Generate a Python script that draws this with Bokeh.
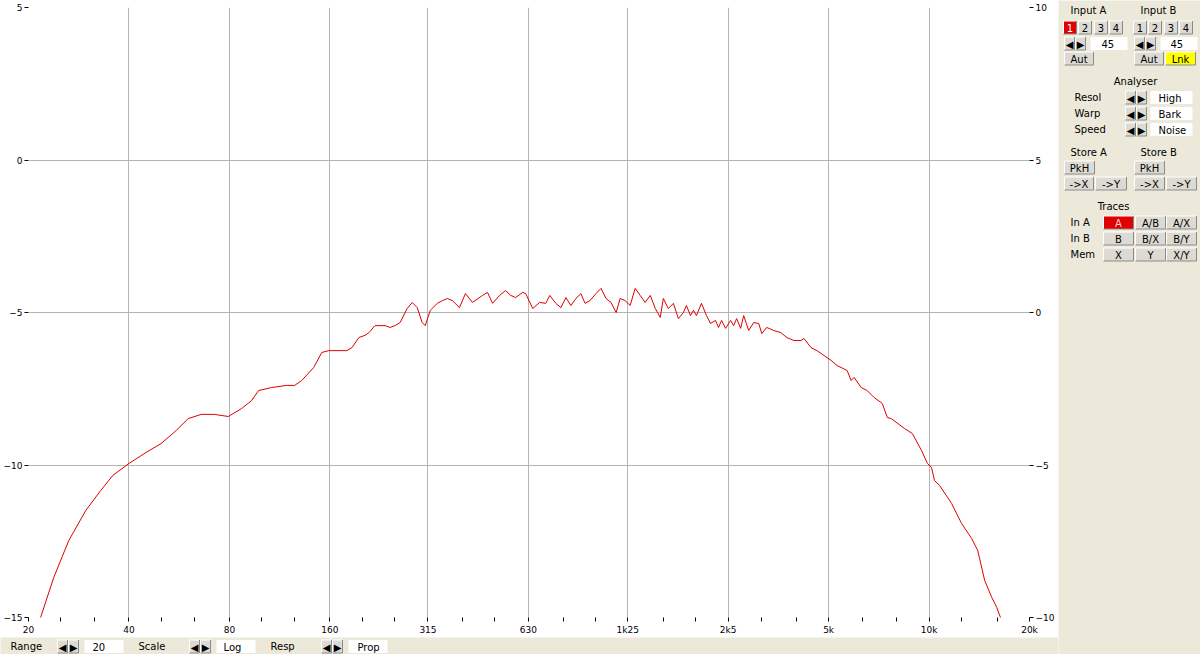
from bokeh.plotting import figure
from bokeh.models import (Range1d, LinearAxis, FixedTicker, GlobalInlineStyleSheet)
from bokeh.layouts import row, column
from bokeh.core.properties import value
from bokeh.embed import file_html
from bokeh.resources import INLINE

# ---------------- data ----------------
freq_hz = [21.7, 23.8, 26.4, 29.7, 32.9, 35.8, 40.0, 45.0, 49.9, 55.4, 60.2, 65.9, 72.1, 79.4,
           87.0, 93.2, 97.8, 107.0, 118.8, 125.5, 131.8, 143.2, 151.4, 158.9, 180.0, 186.4,
           195.6, 203.9, 209.6, 218.5, 234.2, 242.5, 251.0, 259.9, 272.8, 282.5, 292.4, 302.7,
           309.1, 320.0, 335.9, 347.8, 360.0, 372.8, 391.3, 407.9, 428.1, 458.9, 475.0, 491.8,
           516.3, 538.2, 557.2, 576.8, 605.5, 618.2, 648.9, 681, 710, 730, 761, 788, 816, 844,
           874, 905, 931, 963, 1004, 1040, 1076, 1114, 1154, 1186, 1228, 1271, 1316, 1362,
           1410, 1460, 1512, 1565, 1598, 1654, 1713, 1773, 1836, 1874, 1927, 1967, 2009, 2079,
           2153, 2213, 2291, 2339, 2389, 2456, 2542, 2596, 2650, 2725, 2782, 2880, 2982, 3087,
           3152, 3263, 3425, 3595, 3748, 3935, 4130, 4217, 4427, 4614, 4844, 5085, 5300, 5681,
           5841, 5963, 6260, 6526, 6850, 7240, 7496, 7706, 8434, 8914, 9488, 9891, 10170,
           10384, 10749, 11682, 12519, 13418, 13988, 14684, 15413, 15957, 16405]
level_db = [-15.03, -13.69, -12.48, -11.49, -10.84, -10.34, -9.95, -9.59, -9.30, -8.87, -8.48,
            -8.34, -8.34, -8.41, -8.15, -7.89, -7.56, -7.46, -7.39, -7.39, -7.23, -6.80, -6.31,
            -6.25, -6.25, -6.15, -5.82, -5.75, -5.66, -5.43, -5.43, -5.49, -5.43, -5.33, -4.87,
            -4.67, -4.84, -5.33, -5.43, -4.93, -4.70, -4.61, -4.54, -4.61, -4.84, -4.38, -4.67,
            -4.44, -4.34, -4.70, -4.44, -4.28, -4.44, -4.51, -4.34, -4.38, -4.87, -4.67, -4.70,
            -4.44, -4.70, -4.84, -4.51, -4.77, -4.54, -4.38, -4.70, -4.61, -4.38, -4.21, -4.54,
            -4.67, -5.00, -4.54, -4.61, -4.77, -4.21, -4.44, -4.67, -4.44, -4.87, -5.16, -4.54,
            -4.87, -4.70, -5.20, -5.00, -4.77, -5.10, -4.93, -5.10, -4.70, -5.10, -5.36, -5.26,
            -5.49, -5.26, -5.52, -5.26, -5.43, -5.20, -5.52, -5.10, -5.59, -5.33, -5.36, -5.69,
            -5.49, -5.59, -5.66, -5.82, -5.92, -5.92, -5.85, -6.15, -6.25, -6.41, -6.57, -6.74,
            -6.90, -7.23, -7.13, -7.46, -7.56, -7.79, -7.98, -8.44, -8.48, -8.80, -8.97, -9.52,
            -9.95, -10.08, -10.51, -10.67, -11.26, -11.92, -12.41, -12.80, -13.79, -14.34,
            -14.67, -15.03]

x_ticks = [20, 40, 80, 160, 315, 630, 1250, 2500, 5000, 10000, 20000]
x_tick_labels = ["20", "40", "80", "160", "315", "630", "1k25", "2k5", "5k", "10k", "20k"]
x_minor = [25, 31.5, 50, 63, 100, 125, 200, 250, 400, 500, 800, 1000, 1600, 2000,
           3150, 4000, 6300, 8000, 12500, 16000]
y_ticks_left = [-15, -10, -5, 0, 5]
y_ticks_right = [-10, -5, 0, 5, 10]

FONT = value("DejaVu Sans")
BG = "#ece9da"
BTN = "#dcdad3"
GRID = "#b4b4b4"

# ---------------- main chart ----------------
p = figure(width=1058, height=637, x_axis_type="log", x_range=Range1d(20, 20000),
           y_range=Range1d(-15, 5), output_backend="svg", toolbar_location=None,
           min_border_left=28, min_border_right=29, min_border_top=7, min_border_bottom=20,
           background_fill_color="white", border_fill_color="white", outline_line_color=None)
p.frame_align = False

p.xaxis.ticker = FixedTicker(ticks=x_ticks, minor_ticks=x_minor)
p.xaxis.major_label_overrides = {t: l for t, l in zip(x_ticks, x_tick_labels)}
p.yaxis.ticker = FixedTicker(ticks=y_ticks_left)

p.extra_y_ranges = {"r": Range1d(-10, 10)}
raxis = LinearAxis(y_range_name="r", ticker=FixedTicker(ticks=y_ticks_right))
p.add_layout(raxis, "right")

for ax in p.axis:
    ax.axis_line_color = None
    ax.major_tick_line_color = "black"
    ax.minor_tick_line_color = "black"
    ax.major_tick_in = 0
    ax.major_tick_out = 4
    ax.minor_tick_in = 0
    ax.minor_tick_out = 4
    ax.major_label_text_font = "DejaVu Sans"
    ax.major_label_text_font_size = "9px"
    ax.major_label_text_color = "black"
    ax.major_label_standoff = 2
p.xaxis.major_label_standoff = 3

p.xgrid.ticker = FixedTicker(ticks=x_ticks)
p.ygrid.ticker = FixedTicker(ticks=y_ticks_left)
p.grid.grid_line_color = GRID
p.grid.grid_line_width = 1

p.line(freq_hz, level_db, line_color="#dd0000", line_width=1)

# ---------------- helpers for the control widgets ----------------
def panel_fig(w, h, x0, x1, y0, y1):
    f = figure(width=w, height=h, x_range=Range1d(x0, x1), y_range=Range1d(y1, y0),
               output_backend="svg", toolbar_location=None, min_border=0,
               x_axis_location=None, y_axis_location=None,
               background_fill_color=BG, border_fill_color=BG, outline_line_color=None)
    f.grid.visible = False
    f.frame_align = False
    return f


def draw_buttons(f, btns):
    # btns: (x0, x1, yc, label, fill, text_color)
    L = [b[0] for b in btns]; R = [b[1] for b in btns]
    T = [b[2] - 6.5 for b in btns]; B = [b[2] + 6.5 for b in btns]
    f.quad(left=L, right=R, top=T, bottom=B, fill_color=[b[4] for b in btns], line_color=None)
    f.segment(x0=L, y0=T, x1=R, y1=T, line_color="white", line_width=1)
    f.segment(x0=L, y0=T, x1=L, y1=B, line_color="white", line_width=1)
    f.segment(x0=L, y0=B, x1=R, y1=B, line_color="#8c8a84", line_width=1)
    f.segment(x0=R, y0=T, x1=R, y1=B, line_color="#8c8a84", line_width=1)
    f.text(x=[(b[0] + b[1]) / 2 for b in btns], y=[b[2] + 0.5 for b in btns],
           text=[b[3] for b in btns], text_color=[b[5] for b in btns],
           text_font=FONT, text_font_size="10px", text_align="center", text_baseline="middle")


def draw_fields(f, fields):
    # fields: (x0, x1, yc, text, text_x)
    f.quad(left=[a[0] for a in fields], right=[a[1] for a in fields],
           top=[a[2] - 6.5 for a in fields], bottom=[a[2] + 6.5 for a in fields],
           fill_color="white", line_color=None)
    f.text(x=[a[4] for a in fields], y=[a[2] + 0.5 for a in fields], text=[a[3] for a in fields],
           text_color="black", text_font=FONT, text_font_size="10px",
           text_align="left", text_baseline="middle")


def draw_labels(f, labels, align="left"):
    f.text(x=[a[0] for a in labels], y=[a[1] for a in labels], text=[a[2] for a in labels],
           text_color="black", text_font=FONT, text_font_size="10px",
           text_align=align, text_baseline="middle")


def arrows(x0, yc):
    return [(x0, x0 + 10, yc, "\u25c0", BTN, "black"), (x0 + 11, x0 + 21, yc, "\u25b6", BTN, "black")]

# ---------------- right control panel ----------------
q = panel_fig(142, 654, 1058, 1200, 0, 654)
draw_labels(q, [(1070, 10, "Input A"), (1140, 10, "Input B"),
                (1074, 97, "Resol"), (1074, 113, "Warp"), (1074, 129, "Speed"),
                (1070, 152, "Store A"), (1140, 152, "Store B"),
                (1070, 222, "In A"), (1070, 238, "In B"), (1070, 254, "Mem")])
draw_labels(q, [(1135, 81, "Analyser"), (1113, 206, "Traces")], align="center")

btns = []
for i, c in enumerate([1070, 1085, 1101, 1116]):
    btns.append((c - 7, c + 6, 27, str(i + 1), "#e00000" if i == 0 else BTN,
                 "white" if i == 0 else "black"))
for i, c in enumerate([1140, 1155, 1171, 1186]):
    btns.append((c - 7, c + 6, 27, str(i + 1), BTN, "black"))
btns += arrows(1064, 43) + arrows(1134, 43)
btns += [(1064, 1093, 58, "Aut", BTN, "black"), (1134, 1163, 58, "Aut", BTN, "black"),
         (1165, 1195, 58, "Lnk", "#ffff00", "black")]
for yc in (97, 113, 129):
    btns += arrows(1125, yc)
btns += [(1064, 1094, 167, "PkH", BTN, "black"), (1134, 1164, 167, "PkH", BTN, "black"),
         (1064, 1093, 183, "->X", BTN, "black"), (1095, 1126, 183, "->Y", BTN, "black"),
         (1134, 1164, 183, "->X", BTN, "black"), (1166, 1196, 183, "->Y", BTN, "black")]
trace_rows = [["A", "A/B", "A/X"], ["B", "B/X", "B/Y"], ["X", "Y", "X/Y"]]
for r, labels in enumerate(trace_rows):
    yc = 222 + 16 * r
    for cidx, lab in enumerate(labels):
        x0 = [1103, 1135, 1166][cidx]
        red = (r == 0 and cidx == 0)
        btns.append((x0, x0 + 30, yc, lab, "#e00000" if red else BTN, "#ffd0d0" if red else "black"))
draw_buttons(q, btns)
draw_fields(q, [(1090, 1127, 43, "45", 1101), (1160, 1197, 43, "45", 1170),
                (1150, 1192, 97, "High", 1158), (1150, 1192, 113, "Bark", 1158),
                (1150, 1192, 129, "Noise", 1158)])

# ---------------- bottom control bar ----------------
b = panel_fig(1058, 17, 0, 1058, 637, 654)
draw_labels(b, [(10, 646, "Range"), (138, 646, "Scale"), (270, 646, "Resp")])
draw_buttons(b, arrows(57, 646) + arrows(189, 646) + arrows(321, 646))
draw_fields(b, [(84, 123, 646, "20", 92), (216, 255, 646, "Log", 223),
                (348, 387, 646, "Prop", 357)])

layout = row(column(p, b, spacing=0), q, spacing=0)
layout.stylesheets = [GlobalInlineStyleSheet(css="html, body { margin: 0 !important; padding: 0 !important; }")]

open("out.html", "w").write(file_html(layout, INLINE))
